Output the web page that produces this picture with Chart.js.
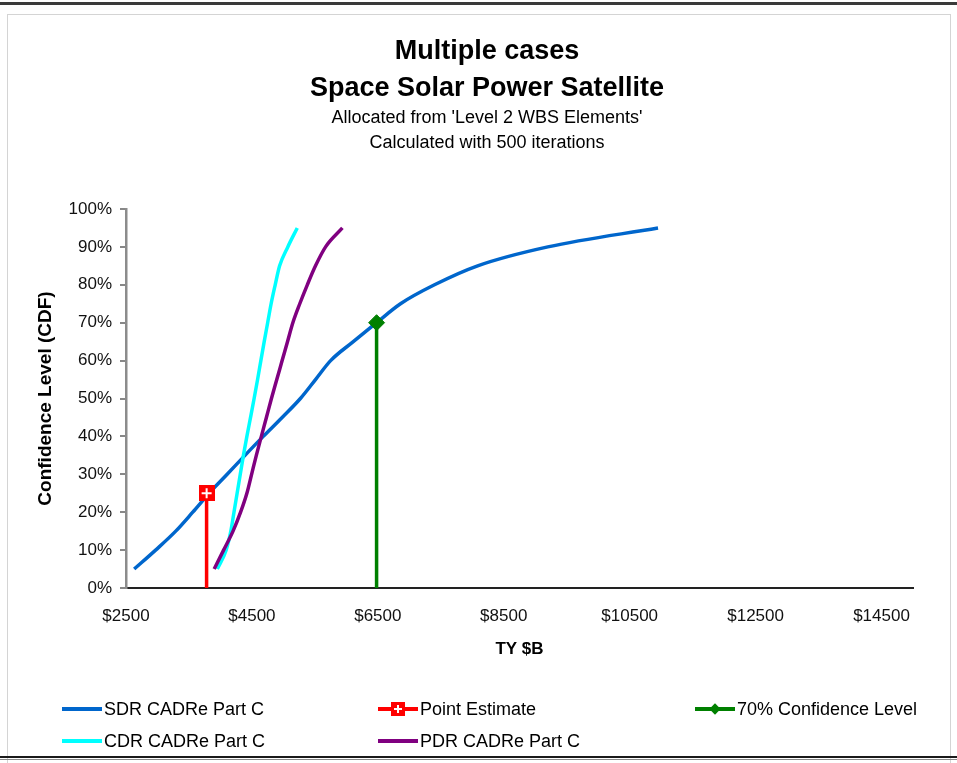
<!DOCTYPE html>
<html>
<head>
<meta charset="utf-8">
<script src="https://cdn.jsdelivr.net/npm/chart.js@4.4.1/dist/chart.umd.min.js"></script>
<style>
  body { margin: 0; background: #fff; font-family: "Liberation Sans", Arial, sans-serif; color: #000; }
  #wrap { position: relative; width: 957px; height: 763px; overflow: hidden; background: #fff; }
  #topbar { position: absolute; left: 0; top: 2px; width: 957px; height: 3px; background: #3a3a3a; }
  #card { position: absolute; left: 7px; top: 14px; width: 942px; height: 750px; border: 1px solid #d4d4d4; border-bottom: none; }
  #botbar1 { position: absolute; left: 0; top: 756px; width: 957px; height: 2px; background: #1a1a1a; }
  #botbar2 { position: absolute; left: 0; top: 759px; width: 957px; height: 1px; background: #8a8a8a; }
  .t { position: absolute; left: 187px; width: 600px; text-align: center; white-space: nowrap; }
  .big { font-weight: bold; font-size: 27px; line-height: 30px; }
  .small { font-size: 18px; line-height: 22px; }
  #chart { position: absolute; left: 0; top: 0; }
  .lg { position: absolute; height: 22px; display: flex; align-items: center; font-size: 18px; white-space: nowrap; }
  .sw { position: relative; width: 40px; height: 22px; margin-right: 2px; }
  .sw .ln { position: absolute; left: 0; top: 9px; width: 40px; height: 4px; }
</style>
</head>
<body>
<div id="wrap">
  <div id="topbar"></div>
  <div id="card"></div>
  <div id="botbar1"></div>
  <div id="botbar2"></div>
  <canvas id="chart" width="957" height="763"></canvas>
  <div class="t big" style="top:35px">Multiple cases</div>
  <div class="t big" style="top:72px">Space Solar Power Satellite</div>
  <div class="t small" style="top:106px">Allocated from 'Level 2 WBS Elements'</div>
  <div class="t small" style="top:131px">Calculated with 500 iterations</div>
  <div id="legend"></div>
</div>
<script>
// confidence levels (CDF %) shared by the three curves
var cdfLevels = [5, 10, 15, 20, 25, 30, 35, 40, 45, 50, 55, 60, 65, 70, 75, 80, 85, 90, 95];
// TY $B at each level
var sdrCost = [2630, 2970, 3290, 3560, 3820, 4107, 4390, 4680, 4980, 5270, 5510, 5750, 6110, 6480, 6860, 7400, 8085, 9200, 10950];
var cdrCost = [3950, 4090, 4165, 4215, 4265, 4315, 4365, 4420, 4478, 4535, 4590, 4642, 4695, 4750, 4805, 4870, 4940, 5070, 5220];
var pdrCost = [3900, 4050, 4200, 4320, 4420, 4495, 4570, 4650, 4730, 4810, 4895, 4980, 5065, 5150, 5260, 5380, 5510, 5670, 5937];
// drop lines: [cost, level]
var pointEstimate = [3780, 25];
var conf70 = [6480, 70];

var xTickValues = [2500, 4500, 6500, 8500, 10500, 12500, 14500];
var yTickValues = [0, 10, 20, 30, 40, 50, 60, 70, 80, 90, 100];

function toPoints(xs, ys) {
  return xs.map(function (x, i) { return { x: x, y: ys[i] }; });
}
function dropLine(p) {
  return [{ x: p[0], y: 0 }, { x: p[0], y: p[1] }];
}

function makePlusMarker(size, arm) {
  var c = document.createElement('canvas');
  c.width = size; c.height = size;
  var g = c.getContext('2d');
  g.fillStyle = '#FF0000';
  g.fillRect(0, 0, size, size);
  g.strokeStyle = '#ffffff';
  g.lineWidth = 2;
  g.beginPath();
  g.moveTo(size / 2, size / 2 - arm); g.lineTo(size / 2, size / 2 + arm);
  g.moveTo(size / 2 - arm, size / 2); g.lineTo(size / 2 + arm, size / 2);
  g.stroke();
  return c;
}
var plusMarker = makePlusMarker(16, 5);

var datasets = [
  { label: 'SDR CADRe Part C', data: toPoints(sdrCost, cdfLevels), borderColor: '#0066CC', borderWidth: 3.5,
    pointRadius: 0, cubicInterpolationMode: 'monotone', order: 5 },
  { label: 'Point Estimate', data: dropLine(pointEstimate), borderColor: '#FF0000', backgroundColor: '#FF0000',
    borderWidth: 3.5, pointRadius: [0, 8], pointStyle: plusMarker, order: 0, marker: 'plus' },
  { label: '70% Confidence Level', data: dropLine(conf70), borderColor: '#008000', backgroundColor: '#008000',
    borderWidth: 3.5, pointRadius: [0, 8], pointStyle: 'rectRot', pointBorderWidth: 1, order: 1, marker: 'diamond' },
  { label: 'CDR CADRe Part C', data: toPoints(cdrCost, cdfLevels), borderColor: '#00FFFF', borderWidth: 3.5,
    pointRadius: 0, cubicInterpolationMode: 'monotone', order: 3 },
  { label: 'PDR CADRe Part C', data: toPoints(pdrCost, cdfLevels), borderColor: '#800080', borderWidth: 3.5,
    pointRadius: 0, cubicInterpolationMode: 'monotone', order: 2 }
];

var chart = new Chart(document.getElementById('chart'), {
  type: 'scatter',
  data: { datasets: datasets.map(function (d) { d.showLine = true; return d; }) },
  options: {
    responsive: false,
    animation: false,
    devicePixelRatio: 1,
    layout: { padding: { left: 30, right: 44, top: 209, bottom: 95 } },
    plugins: { legend: { display: false }, tooltip: { enabled: false }, title: { display: false } },
    scales: {
      x: {
        type: 'linear', min: 2500, max: 15000,
        afterBuildTicks: function (s) { s.ticks = xTickValues.map(function (v) { return { value: v }; }); },
        afterFit: function (s) { s.height = 80; },
        ticks: { callback: function (v) { return '$' + v; }, font: { family: 'Liberation Sans', size: 17 },
                 color: '#111', padding: 18, maxRotation: 0, autoSkip: false },
        grid: { display: false, drawTicks: false },
        border: { display: true, color: '#222', width: 2 },
        title: { display: true, text: 'TY $B', color: '#000', font: { family: 'Liberation Sans', size: 17, weight: 'bold' },
                 padding: { top: 0, bottom: 8 } }
      },
      y: {
        min: 0, max: 100,
        afterBuildTicks: function (s) { s.ticks = yTickValues.map(function (v) { return { value: v }; }); },
        afterFit: function (s) { s.width = 96; },
        ticks: { callback: function (v) { return v + '%'; }, font: { family: 'Liberation Sans', size: 17 },
                 color: '#111', padding: 8 },
        grid: { display: true, drawOnChartArea: false, drawTicks: true, tickLength: 6, color: '#888', lineWidth: 2 },
        border: { display: true, color: '#8c8c8c', width: 2.5 },
        title: { display: true, text: 'Confidence Level (CDF)', color: '#000',
                 font: { family: 'Liberation Sans', size: 19, weight: 'bold' }, padding: { top: 4, bottom: 0 } }
      }
    }
  }
});

// legend laid out like the original: three columns, row-major
var legendCols = [62, 378, 695];
var legendRows = [709, 741];
var legendBox = document.getElementById('legend');
chart.data.datasets.forEach(function (d, i) {
  var item = document.createElement('div');
  item.className = 'lg';
  item.style.left = legendCols[i % 3] + 'px';
  item.style.top = (legendRows[Math.floor(i / 3)] - 11) + 'px';
  var sw = document.createElement('div');
  sw.className = 'sw';
  var ln = document.createElement('div');
  ln.className = 'ln';
  ln.style.background = d.borderColor;
  sw.appendChild(ln);
  if (d.marker === 'plus') {
    var m = makePlusMarker(14, 4);
    m.style.position = 'absolute'; m.style.left = '13px'; m.style.top = '4px';
    sw.appendChild(m);
  } else if (d.marker === 'diamond') {
    var dm = document.createElement('div');
    dm.style.cssText = 'position:absolute;left:16px;top:7px;width:8px;height:8px;transform:rotate(45deg);background:' + d.borderColor;
    sw.appendChild(dm);
  }
  item.appendChild(sw);
  var tx = document.createElement('span');
  tx.textContent = d.label;
  item.appendChild(tx);
  legendBox.appendChild(item);
});
</script>
</body>
</html>
